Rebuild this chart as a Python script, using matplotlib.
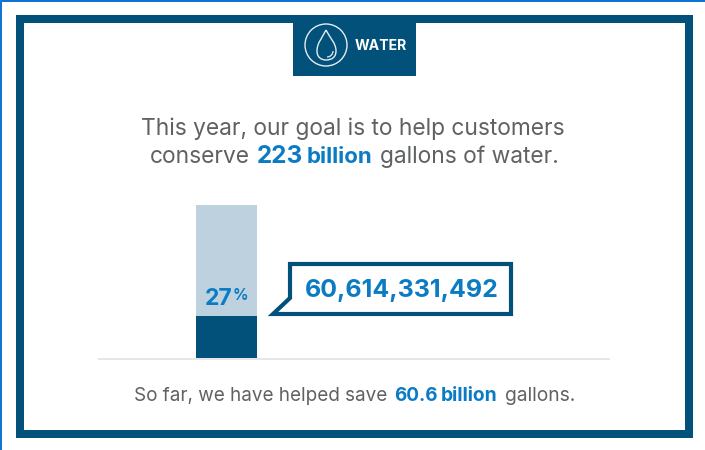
import matplotlib.pyplot as plt
from matplotlib.patches import Rectangle, Polygon, Circle, PathPatch, Arc
from matplotlib.path import Path

# gallons, in billions
goal = 223
saved = 60.6
percent_label = "27"
saved_label = "60,614,331,492"

DARK = "#01517a"
LIGHT = "#bdd2de"
BLUE = "#0b7cc4"
GRAY = "#5f6163"
RULE = "#e6e6e6"
FONT = "Inter"

plt.rcParams["font.family"] = FONT

fig = plt.figure(figsize=(7.05, 4.5), dpi=100)
bg = fig.add_axes([0, 0, 1, 1], zorder=1)
bg.set_xlim(0, 705)
bg.set_ylim(450, 0)
bg.axis("off")


def rect(x0, y0, x1, y1, color, z=1):
    bg.add_patch(Rectangle((x0, y0), x1 - x0, y1 - y0, fc=color, ec="none", zorder=z))


def label(x, y, s, color=GRAY, size=16.4, weight="normal"):
    return bg.text(x, y, s, color=color, fontsize=size, fontweight=weight,
                   ha="left", va="baseline", zorder=5)


# window edge
rect(0, 0, 705, 1.5, "#1173d4")
rect(0, 0, 2, 450, "#1173d4")

# frame
rect(16, 15, 692.5, 438, DARK)
rect(24, 23, 684.5, 430, "white", z=2)

# header tab
rect(293, 15, 416, 76, DARK, z=3)
bg.add_patch(Circle((326, 45), 21, fc="none", ec="#e4ecf1", lw=1.0, zorder=4))
drop = Path(
    [(326, 30), (322, 38), (317, 43), (317, 51), (317, 57), (321, 60), (326, 60),
     (332, 60), (336, 57), (336, 51), (336, 43), (330, 38), (326, 30)],
    [Path.MOVETO] + [Path.CURVE4] * 12,
)
bg.add_patch(PathPatch(drop, fc="none", ec="#e4ecf1", lw=1.0, zorder=4))
bg.add_patch(Arc((327, 51), 12, 12, theta1=90, theta2=180, angle=-90,
                 ec="#e4ecf1", lw=0.9, zorder=4))
label(354.5, 50, "WATER", color="white", size=10.2, weight="bold")

# heading
label(141, 135, "This year, our goal is to help customers")
label(150, 163, "conserve")
label(257, 163, "223", color=BLUE, size=17.5, weight="bold")
label(307, 163, "billion", color=BLUE, size=16, weight="bold")
label(380, 163, "gallons of water.")

# progress bar, scaled so the full height is the goal
ax = fig.add_axes([98 / 705, 1 - 358 / 450, 512 / 705, 153 / 450], zorder=2)
ax.set_xlim(98, 610)
ax.set_ylim(0, goal)
ax.axis("off")
ax.bar(226.5, goal, width=61, color=LIGHT)
ax.bar(226.5, saved, width=61, color=DARK)

rect(98, 358, 610, 360, RULE, z=3)

# these sit on top of the bar, so they go in the bar axes using page coordinates
ax.text(205, 305, percent_label, color=BLUE, fontsize=16.5, fontweight="bold",
        transform=bg.transData, va="baseline")
ax.text(233, 300, "%", color=BLUE, fontsize=11, fontweight="bold",
        transform=bg.transData, va="baseline")

# callout
bg.add_patch(Polygon([(290, 264), (511, 264), (511, 314), (273, 314), (290, 298)],
                     closed=True, fc="white", ec=DARK, lw=3.0, joinstyle="miter", zorder=4))
label(305, 297, saved_label, color=BLUE, size=18, weight="bold")

# footer
label(134, 401, "So far, we have helped save", size=13.6)
label(394, 401, "60.6", color=BLUE, size=13.6, weight="bold")
label(441, 401, "billion", color=BLUE, size=13.8, weight="bold")
label(505, 401, "gallons.", size=13.8)

fig.savefig("out.png", dpi=100)
